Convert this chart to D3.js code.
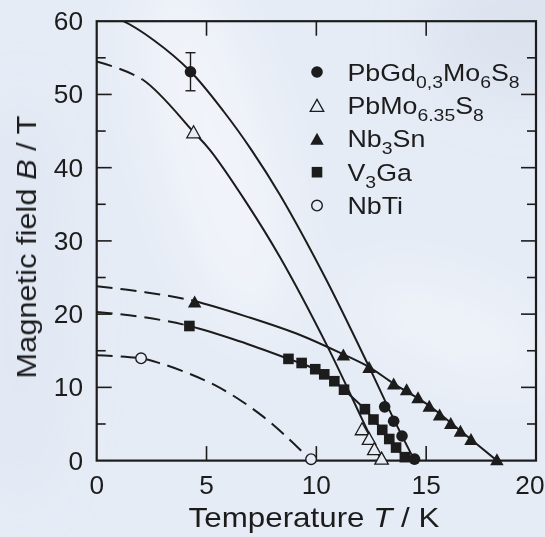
<!DOCTYPE html>
<html><head><meta charset="utf-8">
<script src="https://cdn.jsdelivr.net/npm/d3@7"></script>
<style>html,body{margin:0;padding:0;background:#e6ecf6;} svg{display:block;}</style>
</head><body><svg id="c" width="545" height="537"></svg>
<script>
// ---------- data ----------
const xTicks = [0, 5, 10, 15, 20];
const yTicks = [0, 10, 20, 30, 40, 50, 60];
const yMinorTicks = [5, 15, 25, 35, 45, 55];

// measured points
const pbgdT = [4.27, 13.11, 13.52, 13.90, 14.47];
const pbgdB = [53.1, 7.34, 5.38, 3.36, 0.2];
const pbgdErrLow = [50.5, null, null, null, null];
const pbgdErrHigh = [55.7, null, null, null, null];
const pbmoT = [4.41, 12.08, 12.40, 12.64, 12.97];
const pbmoB = [44.9, 4.35, 3.03, 1.64, 0.33];
const nb3snT = [4.46, 11.23, 12.40, 13.52, 14.11, 14.63, 15.14, 15.61, 16.12, 16.56, 17.04, 18.22];
const nb3snB = [21.74, 14.5, 12.77, 10.52, 9.73, 8.65, 7.49, 6.31, 5.14, 4.07, 2.95, 0.2];
const v3gaT = [4.22, 8.73, 9.33, 9.95, 10.36, 10.82, 11.26, 12.21, 12.60, 13.0, 13.32, 13.63, 14.03];
const v3gaB = [18.38, 13.89, 13.33, 12.48, 11.78, 10.84, 9.68, 7.02, 5.61, 4.2, 2.95, 1.78, 0.47];
const nbtiT = [2.02, 9.76];
const nbtiB = [13.97, 0.2];

// fitted upper-critical-field curves
const pbgdFitT = [0, 1.21, 2.6, 4.25, 5.8, 7.05, 8.34, 10.4, 12.4, 13.5, 14.47];
const pbgdFitB = [61.1, 60, 57.4, 53.2, 47.6, 42.4, 36.3, 25, 12.8, 5.8, 0];
const pbmoFitT = [0, 2.1, 4.4, 5.16, 6.8, 8.34, 10.47, 12.06, 12.97];
const pbmoFitB = [54.5, 52.0, 44.9, 42.4, 35.3, 27.8, 15.8, 5.8, 0];
const nb3snFitT = [0, 2.2, 4.43, 7.0, 9.26, 11.23, 12.4, 13.52, 15.14, 16.56, 18.22];
const nb3snFitB = [23.8, 23.0, 21.8, 19.5, 17.15, 14.5, 12.77, 10.52, 7.49, 4.07, 0];
const v3gaFitT = [0, 2.1, 4.22, 6.5, 8.73, 9.95, 10.82, 11.26, 12.21, 12.6, 13.0, 13.63, 14.15];
const v3gaFitB = [20.3, 19.6, 18.38, 16.3, 13.89, 12.48, 10.84, 9.68, 7.02, 5.61, 4.2, 1.78, 0];
const nbtiFitT = [0, 2.02, 2.88, 4.17, 5.38, 6.52, 7.58, 8.72, 9.76];
const nbtiFitB = [14.4, 13.97, 13.3, 11.92, 10.3, 8.28, 6.0, 3.04, 0];
const dashEndT = [0, 2.1, 4.3, 4.2, 20]; // extrapolated (dashed) part of each fit

const legendParts = [
  [["PbGd",0],["0,3",1],["Mo",0],["6",1],["S",0],["8",1]],
  [["PbMo",0],["6.35",1],["S",0],["8",1]],
  [["Nb",0],["3",1],["Sn",0]],
  [["V",0],["3",1],["Ga",0]],
  [["NbTi",0]]
];
const markerKinds = ["circleFilled","triOpen","triFilled","square","circleOpen"];

// ---------- drawing ----------
const W = 545, H = 537;
const svg = d3.select("#c");
const FONT = "'Liberation Sans', Arial, Helvetica, sans-serif";
const INK = "#1c1c1c";
const BG = "#e6ecf6";

const x = d3.scaleLinear().domain([0, 20]).range([96.7, 536]);
const y = d3.scaleLinear().domain([0, 60]).range([460.6, 21.2]);
const [x0, x1] = x.range();
const [yb, yt] = y.range();

// background
const defs = svg.append("defs");
const blur = defs.append("filter").attr("id","blur").attr("x","-50%").attr("y","-50%").attr("width","200%").attr("height","200%");
blur.append("feGaussianBlur").attr("stdDeviation", 30);
svg.append("rect").attr("width", W).attr("height", H).attr("fill", BG);
const bgG = svg.append("g").attr("filter","url(#blur)");
bgG.append("ellipse").attr("cx",215).attr("cy",150).attr("rx",55).attr("ry",190).attr("transform","rotate(-15,215,150)").attr("fill","#ffffff").attr("opacity",0.45);
bgG.append("ellipse").attr("cx",450).attr("cy",330).attr("rx",110).attr("ry",45).attr("transform","rotate(20,450,330)").attr("fill","#ffffff").attr("opacity",0.35);
bgG.append("ellipse").attr("cx",520).attr("cy",30).attr("rx",90).attr("ry",70).attr("fill","#d5deea").attr("opacity",0.6);
bgG.append("ellipse").attr("cx",20).attr("cy",300).attr("rx",40).attr("ry",200).attr("fill","#dbe3ef").attr("opacity",0.5);

// clip paths
function clipRect(id, xa, xb) {
  defs.append("clipPath").attr("id", id).append("rect")
    .attr("x", xa).attr("y", yt).attr("width", Math.max(0, xb - xa)).attr("height", yb - yt);
}

// ticks
const tk = svg.append("g").attr("stroke", INK).attr("stroke-width", 1.6);
xTicks.filter(v => v > 0 && v < 20).forEach(v => {
  tk.append("line").attr("x1", x(v)).attr("x2", x(v)).attr("y1", yb).attr("y2", yb - 14.5);
  tk.append("line").attr("x1", x(v)).attr("x2", x(v)).attr("y1", yt).attr("y2", yt + 14.5);
});
yTicks.filter(v => v > 0 && v < 60).forEach(v => {
  tk.append("line").attr("x1", x0).attr("x2", x0 + 15).attr("y1", y(v)).attr("y2", y(v));
  tk.append("line").attr("x1", x1).attr("x2", x1 - 15).attr("y1", y(v)).attr("y2", y(v));
});
yMinorTicks.forEach(v => {
  tk.append("line").attr("x1", x0).attr("x2", x0 + 9).attr("y1", y(v)).attr("y2", y(v));
  tk.append("line").attr("x1", x1).attr("x2", x1 - 9).attr("y1", y(v)).attr("y2", y(v));
});

// fits
const line = d3.line().x(d => x(d[0])).y(d => y(d[1])).curve(d3.curveCatmullRom.alpha(0.5));
const fits = [[pbgdFitT,pbgdFitB],[pbmoFitT,pbmoFitB],[nb3snFitT,nb3snFitB],[v3gaFitT,v3gaFitB],[nbtiFitT,nbtiFitB]];
fits.forEach((f, i) => {
  const pts = f[0].map((t, j) => [t, f[1][j]]);
  const split = x(dashEndT[i]);
  clipRect("cd" + i, x0, split);
  clipRect("cs" + i, split, x1);
  if (dashEndT[i] > 0) {
    svg.append("path").attr("d", line(pts)).attr("fill","none").attr("stroke", INK)
      .attr("stroke-width", 2).attr("stroke-dasharray","16,8").attr("clip-path","url(#cd"+i+")");
  }
  svg.append("path").attr("d", line(pts)).attr("fill","none").attr("stroke", INK)
    .attr("stroke-width", 2).attr("clip-path","url(#cs"+i+")");
});

// frame
svg.append("rect").attr("x", x0).attr("y", yt).attr("width", x1 - x0).attr("height", yb - yt)
  .attr("fill","none").attr("stroke", INK).attr("stroke-width", 2.2);

// error bar
const eb = svg.append("g").attr("stroke", INK).attr("stroke-width", 1.4);
pbgdT.forEach((t, i) => {
  if (pbgdErrLow[i] == null) return;
  eb.append("line").attr("x1", x(t)).attr("x2", x(t)).attr("y1", y(pbgdErrLow[i])).attr("y2", y(pbgdErrHigh[i]));
  [pbgdErrLow[i], pbgdErrHigh[i]].forEach(v =>
    eb.append("line").attr("x1", x(t) - 5).attr("x2", x(t) + 5).attr("y1", y(v)).attr("y2", y(v)));
});

// markers
function marker(g, kind, cx, cy) {
  if (kind === "circleFilled") g.append("circle").attr("cx",cx).attr("cy",cy).attr("r",5.8).attr("fill",INK);
  else if (kind === "circleOpen") g.append("circle").attr("cx",cx).attr("cy",cy).attr("r",5.3).attr("fill",BG).attr("stroke",INK).attr("stroke-width",1.4);
  else if (kind === "square") g.append("rect").attr("x",cx-5.3).attr("y",cy-5.3).attr("width",10.6).attr("height",10.6).attr("fill",INK);
  else {
    const w = 13.5, h = 12;
    const p = `M${cx},${cy-h/2}L${cx+w/2},${cy+h/2}L${cx-w/2},${cy+h/2}Z`;
    if (kind === "triFilled") g.append("path").attr("d",p).attr("fill",INK);
    else g.append("path").attr("d",p).attr("fill",BG).attr("stroke",INK).attr("stroke-width",1.3).attr("stroke-linejoin","miter");
  }
}
const mk = svg.append("g");
const sets = [[pbmoT,pbmoB,"triOpen"],[nbtiT,nbtiB,"circleOpen"],[v3gaT,v3gaB,"square"],[nb3snT,nb3snB,"triFilled"],[pbgdT,pbgdB,"circleFilled"]];
sets.forEach(s => s[0].forEach((t, j) => marker(mk, s[2], x(t), y(s[1][j]))));

// tick labels
function stext(g, tx, ty, sx, str, size, anchor) {
  return g.append("g").attr("transform", `translate(${tx},${ty}) scale(${sx},1)`)
    .append("text").attr("text-anchor", anchor).attr("font-family", FONT)
    .attr("font-size", size).attr("fill", INK).text(str);
}
const lab = svg.append("g");
xTicks.forEach(v => {
  if (v === 20) stext(lab, 544.5, 494, 1.05, String(v), 25, "end");
  else stext(lab, x(v), 494, 1.05, String(v), 25, "middle");
});
yTicks.forEach(v => stext(lab, 83, y(v) + 9, 1.05, String(v), 25, "end"));

// axis titles
const xt = lab.append("g").attr("transform", `translate(314,527) scale(1.12,1)`)
  .append("text").attr("text-anchor","middle").attr("font-family",FONT).attr("font-size",28).attr("fill",INK);
xt.append("tspan").text("Temperature ");
xt.append("tspan").attr("font-style","italic").text("T");
xt.append("tspan").text(" / K");
const yt2 = lab.append("g").attr("transform", `translate(36,247) rotate(-90) scale(1.1,1)`)
  .append("text").attr("text-anchor","middle").attr("font-family",FONT).attr("font-size",28).attr("fill",INK);
yt2.append("tspan").text("Magnetic field ");
yt2.append("tspan").attr("font-style","italic").text("B");
yt2.append("tspan").text(" / T");

// legend
const lg = svg.append("g");
legendParts.forEach((parts, i) => {
  const cy = 72 + i * 33.4;
  marker(lg, markerKinds[i], 317, cy);
  const t = lg.append("g").attr("transform", `translate(347.5,${cy + 8.5}) scale(1.14,1)`)
    .append("text").attr("font-family", FONT).attr("font-size", 23.5).attr("fill", INK);
  let shifted = false;
  parts.forEach(([s, sub]) => {
    const ts = t.append("tspan").text(s);
    if (sub && !shifted) { ts.attr("font-size", 17).attr("dy", 7); shifted = true; }
    else if (!sub && shifted) { ts.attr("dy", -7); shifted = false; }
    else if (sub) ts.attr("font-size", 17);
  });
});
</script>
</body></html>
